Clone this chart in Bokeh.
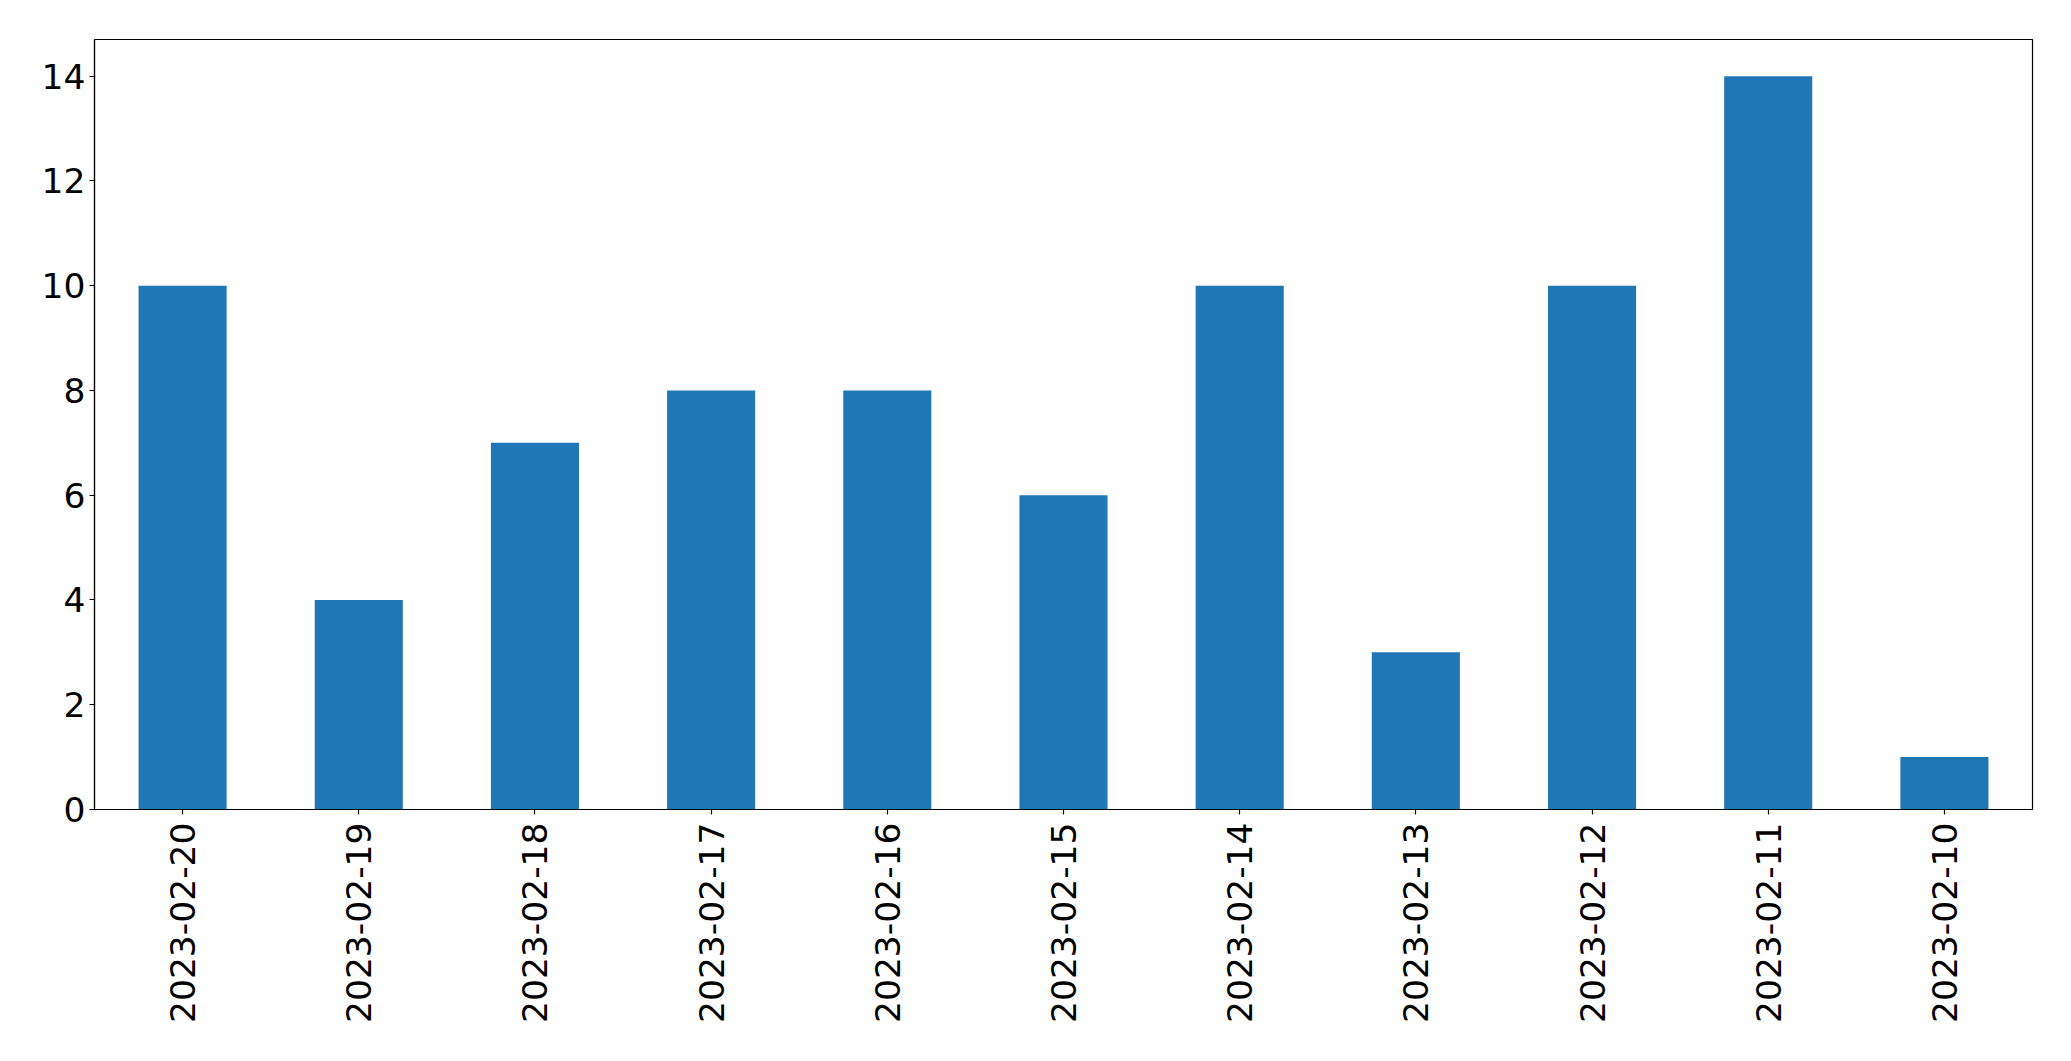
import math
from bokeh.plotting import figure
from bokeh.models import FactorRange, Range1d, FixedTicker, ColumnDataSource
from bokeh.embed import file_html
from bokeh.resources import INLINE

dates = ["2023-02-20", "2023-02-19", "2023-02-18", "2023-02-17", "2023-02-16",
         "2023-02-15", "2023-02-14", "2023-02-13", "2023-02-12", "2023-02-11",
         "2023-02-10"]
counts = [10, 4, 7, 8, 8, 6, 10, 3, 10, 14, 1]
y_ticks = [0, 2, 4, 6, 8, 10, 12, 14]

src = ColumnDataSource(dict(date=dates, count=counts))

p = figure(
    x_range=FactorRange(*dates, range_padding=0),
    y_range=Range1d(0, 14.7),
    frame_width=1938, frame_height=770,
    min_border_left=94, min_border_top=39, min_border_right=30, min_border_bottom=10,
    output_backend="svg", toolbar_location=None,
)
p.vbar(x="date", top="count", width=0.5, source=src, color="#1f77b4", line_color=None)

p.xgrid.visible = False
p.ygrid.visible = False
p.outline_line_color = "black"
p.outline_line_width = 1.2

for ax in (p.xaxis[0], p.yaxis[0]):
    ax.major_label_text_font = "DejaVu Sans"
    ax.major_label_text_font_size = "34.5px"
    ax.major_label_text_color = "black"
    ax.axis_line_color = "black"
    ax.axis_line_width = 1.2
    ax.major_tick_line_color = "black"
    ax.major_tick_line_width = 1.2
    ax.major_tick_out = 5
    ax.major_tick_in = 0
    ax.minor_tick_out = 0
    ax.minor_tick_in = 0

p.yaxis[0].ticker = FixedTicker(ticks=y_ticks)
p.yaxis[0].major_label_standoff = 4
p.xaxis[0].major_label_orientation = math.pi / 2
p.xaxis[0].major_label_standoff = 8

open("out.html", "w").write(file_html(p, INLINE))
